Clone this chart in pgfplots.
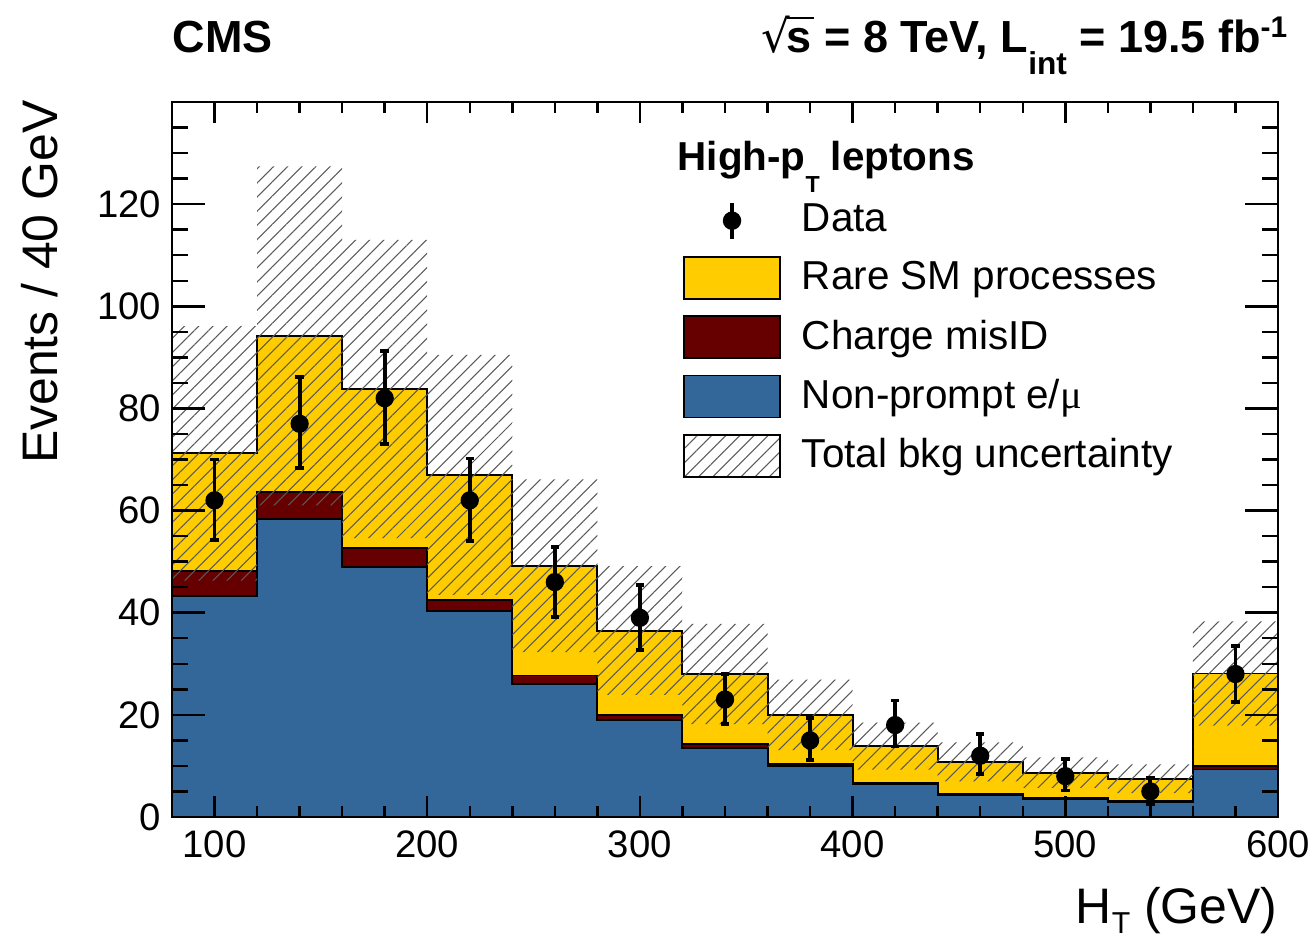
\documentclass[border=0pt]{standalone}
\usepackage{fontspec}
\setmainfont{Liberation Sans}
\newfontfamily\symfont{Liberation Serif}
\newfontfamily\djv{DejaVu Sans}
\usepackage{pgfplots}
\pgfplotsset{compat=1.18}
\usepackage{pgfplotstable}
\usetikzlibrary{patterns.meta}
\definecolor{cmsyellow}{RGB}{255,204,0}
\definecolor{cmsred}{RGB}{102,0,0}
\definecolor{cmsblue}{RGB}{51,102,153}

\newsavebox\radbox
\newcommand\sqrts{\sbox\radbox{\djv\mdseries √}\usebox\radbox\kern-0.06em\rlap{\rule[\dimexpr\ht\radbox-0.6pt\relax]{0.6em}{0.6pt}}s}

\pgfplotstableread{
x np cm tot lo hi
80 43.2 48.1 71.2 46.3 96.1
120 58.4 63.6 94.2 61.0 127.4
160 48.9 52.7 83.8 54.6 113.0
200 40.3 42.5 67.0 43.5 90.5
240 26.0 27.7 49.2 32.3 66.1
280 19.0 20.0 36.5 23.9 49.1
320 13.6 14.3 28.0 18.2 37.8
360 10.0 10.4 20.0 13.1 26.9
400 6.4 6.7 13.9 9.3 18.5
440 4.3 4.5 10.8 7.0 14.6
480 3.6 3.8 8.7 5.7 11.7
520 2.9 3.1 7.5 4.7 10.3
560 9.3 10.0 28.1 17.9 38.3
600 9.3 10.0 28.1 17.9 38.3
}\stacktab

\pgfplotstableread{
x y ep em
100 62 8.0 7.8
140 77 9.1 8.6
180 82 9.3 8.9
220 62 8.2 7.9
260 46 6.9 6.8
300 39 6.5 6.3
340 23 5.0 4.8
380 15 4.4 3.9
420 18 4.8 4.2
460 12 4.3 3.5
500 8 3.4 2.8
540 5 2.7 2.5
580 28 5.4 5.4
}\datatab

\pgfplotsset{
  cmsbase/.style={
    width=11.06cm, height=7.15cm, scale only axis,
    xmin=80, xmax=600, ymin=0, ymax=140,
    axis line style={line width=0.7pt},
    tick style={line width=0.7pt, black},
    tick align=inside, tick pos=both,
    /pgf/number format/assume math mode=true,
  },
  legbox/.style={legend image code/.code={\draw[fill=#1, draw=black, line width=0.5pt] (0cm,-0.21cm) rectangle (0.96cm,0.21cm);}},
  leghatch/.style={legend image code/.code={\draw[pattern={Lines[angle=45,distance=1mm,line width=0.3pt]}, pattern color=black!65, draw=black, line width=0.5pt] (0cm,-0.21cm) rectangle (0.96cm,0.21cm);}},
  legdata/.style={legend image code/.code={\draw[black, line width=1.1pt] (0.48cm,-0.18cm)--(0.48cm,0.18cm); \fill[black] (0.48cm,0cm) circle (0.085cm);}},
}

\begin{document}
\begin{tikzpicture}
% stacked backgrounds
\begin{axis}[cmsbase, name=ax, hide axis]
\addplot[const plot, fill=cmsyellow, draw=black, line width=0.55pt] table[x=x, y=tot] {\stacktab} \closedcycle;
\addplot[const plot, fill=cmsred, draw=black, line width=0.55pt] table[x=x, y=cm] {\stacktab} \closedcycle;
\addplot[const plot, fill=cmsblue, draw=black, line width=0.55pt] table[x=x, y=np] {\stacktab} \closedcycle;
\end{axis}

% total background uncertainty band
\begin{axis}[cmsbase, hide axis, at={(ax.south west)}, anchor=south west, stack plots=y]
\addplot[const plot, draw=none] table[x=x, y=lo] {\stacktab};
\addplot[const plot, draw=none, pattern={Lines[angle=45,distance=1mm,line width=0.3pt]}, pattern color=black!65]
  table[x=x, y expr=\thisrow{hi}-\thisrow{lo}] {\stacktab} \closedcycle;
\end{axis}

% data, x axis, legend
\begin{axis}[cmsbase, at={(ax.south west)}, anchor=south west,
  xtick={100,200,...,600}, minor xtick={80,100,...,600},
  ytick=\empty,
  major tick length=2.1mm, minor tick length=1.1mm,
  xticklabel style={font=\fontsize{10.9}{12}\selectfont, inner sep=0pt, anchor=north, yshift=-1.3mm},
  xlabel={H\raisebox{-3.1pt}{\fontsize{8.6}{9}\selectfont T} (GeV)},
  xlabel style={font=\fontsize{14.2}{16}\selectfont, at={(axis description cs:1.0,-0.1483)}, anchor=base east, inner sep=0pt},
  legend style={at={(axis cs:320,120.8)}, anchor=north west, draw=none, fill=none,
    font=\fontsize{11.5}{13.8}\selectfont, row sep=1.55mm, column sep=2.1mm, inner sep=0pt,
    nodes={inner sep=0pt}},
  legend cell align=left,
]
\addplot[only marks, mark=*, mark size=2.4pt, black, forget plot,
  error bars/.cd, y dir=both, y explicit,
  error bar style={line width=1.1pt, black},
  error mark options={line width=1.1pt, mark size=1.2pt, black, rotate=90}]
  table[x=x, y=y, y error plus=ep, y error minus=em] {\datatab};

\addlegendimage{legdata}
\addlegendentry{Data}
\addlegendimage{legbox=cmsyellow}
\addlegendentry{Rare SM processes}
\addlegendimage{legbox=cmsred}
\addlegendentry{Charge misID}
\addlegendimage{legbox=cmsblue}
\addlegendentry{Non-prompt e/{\symfont μ}}
\addlegendimage{leghatch}
\addlegendentry{Total bkg uncertainty}

\node[anchor=base west, inner sep=0pt, font=\bfseries\fontsize{11.5}{13.8}\selectfont] at (axis cs:317.4,126.6)
  {High-p\raisebox{-6.2pt}{\fontsize{6.6}{7}\selectfont T} leptons};
\end{axis}

% y axis
\begin{axis}[cmsbase, at={(ax.south west)}, anchor=south west,
  xtick=\empty,
  ytick={0,20,...,120}, minor ytick={0,5,...,140},
  major tick length=3.3mm, minor tick length=1.6mm,
  yticklabel style={font=\fontsize{10.9}{12}\selectfont, inner sep=0pt, anchor=east, xshift=-1.0mm},
  ylabel={Events / 40 GeV},
  ylabel style={font=\fontsize{14.2}{16}\selectfont, at={(axis description cs:-0.1031,1.003)}, anchor=base east, inner sep=0pt},
]
\end{axis}

\node[anchor=base west, inner sep=0pt, font=\bfseries\fontsize{12.8}{14}\selectfont] at ([yshift=4.9mm]ax.north west) {CMS};
\node[anchor=base east, inner sep=0pt, font=\bfseries\fontsize{12.8}{14}\selectfont] at ([xshift=1.0mm, yshift=4.9mm]ax.north east)
  {\sqrts{} = 8 TeV, L\raisebox{-6pt}{\fontsize{9}{10}\selectfont int} = 19.5 fb\raisebox{4.5pt}{\fontsize{8.5}{9}\selectfont -1}};
\path (ax.south west) +(-1.72cm,-1.18cm) +(11.44cm,8.17cm);
\end{tikzpicture}
\end{document}
